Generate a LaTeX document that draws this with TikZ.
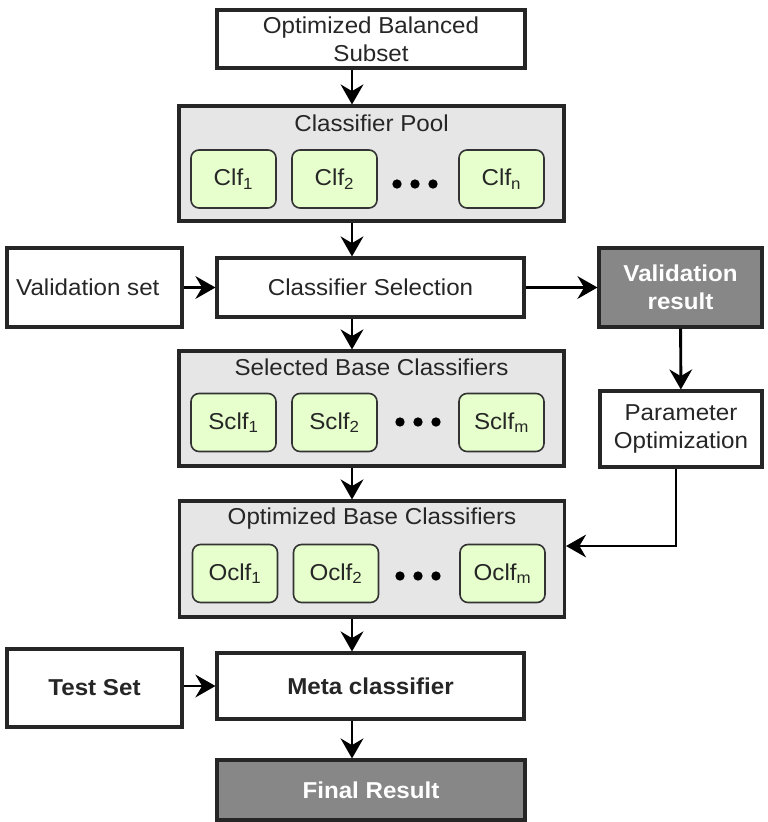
\documentclass[tikz,border=0pt]{standalone}
\usepackage{fontspec}
\setmainfont[FakeStretch=1.05]{Liberation Sans}
\usetikzlibrary{arrows.meta}
\definecolor{boxgray}{HTML}{E6E6E6}
\definecolor{clfgreen}{HTML}{E6FFCC}
\definecolor{darkbox}{HTML}{878787}
\definecolor{txt}{HTML}{262626}
\begin{document}
\begin{tikzpicture}[x=0.75pt,y=-0.75pt,
  every node/.style={font=\fontsize{17.25}{21}\selectfont, text=txt, align=center, inner sep=0pt},
  plain/.style={draw=black!85, line width=2.3pt, fill=white},
  container/.style={draw=black!85, line width=2.3pt, fill=boxgray},
  result/.style={draw=black!85, line width=2.3pt, fill=darkbox, text=white, font=\fontsize{17.25}{21}\selectfont\bfseries},
  clf/.style={draw=black!80, line width=1.2pt, fill=clfgreen, rounded corners=6pt, minimum width=63.75pt, minimum height=43.5pt},
  arr/.style={draw=black, line width=2.2pt, -{Stealth[length=15pt,width=17pt,inset=5pt]}},
  dot/.style={fill=black, draw=none, circle, minimum size=7pt}
]
\useasboundingbox (0,0) rectangle (768,822);

% top
\node[plain, minimum width=231pt, minimum height=43.5pt] (top) at (371,39) {Optimized Balanced\\Subset};

% classifier pool
\node[container, minimum width=288.75pt, minimum height=86.25pt] (pool) at (371.5,163.5) {};
\node (pooltitle) at (371.5,123) {Classifier Pool};
\node[clf] (clf1) at (233.5,179) {Clf\textsubscript{1}};
\node[clf] (clf2) at (334.5,179) {Clf\textsubscript{2}};
\node[clf] (clfn) at (501.5,179) {Clf\textsubscript{n}};
\node[dot] (pd1) at (397,184) {};
\node[dot] (pd2) at (415,184) {};
\node[dot] (pd3) at (433,184) {};

% selection row
\node[plain, minimum width=131.25pt, minimum height=59.25pt] (vs) at (94.5,287.5) {Validation set\hspace{10pt}};
\node[plain, minimum width=230.25pt, minimum height=44.25pt] (cs) at (370.5,287.5) {Classifier Selection};
\node[result, minimum width=122.25pt, minimum height=59.25pt] (vr) at (680.5,287.5) {Validation\\result};

% selected base classifiers
\node[container, minimum width=288.75pt, minimum height=86.25pt] (sel) at (371.5,408.5) {};
\node (seltitle) at (371.5,367) {Selected Base Classifiers};
\node[clf] (s1) at (233.5,422.5) {Sclf\textsubscript{1}};
\node[clf] (s2) at (334.5,422.5) {Sclf\textsubscript{2}};
\node[clf] (sm) at (501.5,422.5) {Sclf\textsubscript{m}};
\node[dot] (sd1) at (400,422) {};
\node[dot] (sd2) at (418,422) {};
\node[dot] (sd3) at (436,422) {};

% parameter optimization
\node[plain, minimum width=121.5pt, minimum height=57pt] (po) at (681,429) {Parameter\\Optimization};

% optimized base classifiers
\node[container, minimum width=288.75pt, minimum height=87pt] (opt) at (372,559) {};
\node (opttitle) at (372,519) {Optimized Base Classifiers};
\node[clf] (o1) at (235,573.5) {Oclf\textsubscript{1}};
\node[clf] (o2) at (336,573.5) {Oclf\textsubscript{2}};
\node[clf] (om) at (502.5,573.5) {Oclf\textsubscript{m}};
\node[dot] (od1) at (400,576) {};
\node[dot] (od2) at (418,576) {};
\node[dot] (od3) at (436,576) {};

% bottom
\node[plain, minimum width=131.25pt, minimum height=58.5pt, font=\fontsize{17.25}{21}\selectfont\bfseries] (ts) at (94.5,688) {Test Set};
\node[plain, minimum width=230.25pt, minimum height=49.5pt, font=\fontsize{17.25}{21}\selectfont\bfseries] (meta) at (370.5,686) {Meta classifier};
\node[result, minimum width=231pt, minimum height=45pt] (fin) at (371,790) {Final Result};

% connectors
\coordinate (ax) at (352,0);
\coordinate (pk) at (676,546);
\draw[arr] (top.south -| ax) -- (pool.north -| ax);
\draw[arr] (pool.south -| ax) -- (cs.north -| ax);
\draw[arr] (vs) -- (cs);
\draw[arr] (cs) -- (vr);
\draw[arr] (cs.south -| ax) -- (sel.north -| ax);
\draw[arr] (vr) -- (po);
\draw[arr] (sel.south -| ax) -- (opt.north -| ax);
\draw[arr] (po.south -| pk) |- (opt.east |- pk);
\draw[arr] (opt.south -| ax) -- (meta.north -| ax);
\draw[arr] (ts.east |- meta) -- (meta.west);
\draw[arr] (meta.south -| ax) -- (fin.north -| ax);
\end{tikzpicture}
\end{document}
